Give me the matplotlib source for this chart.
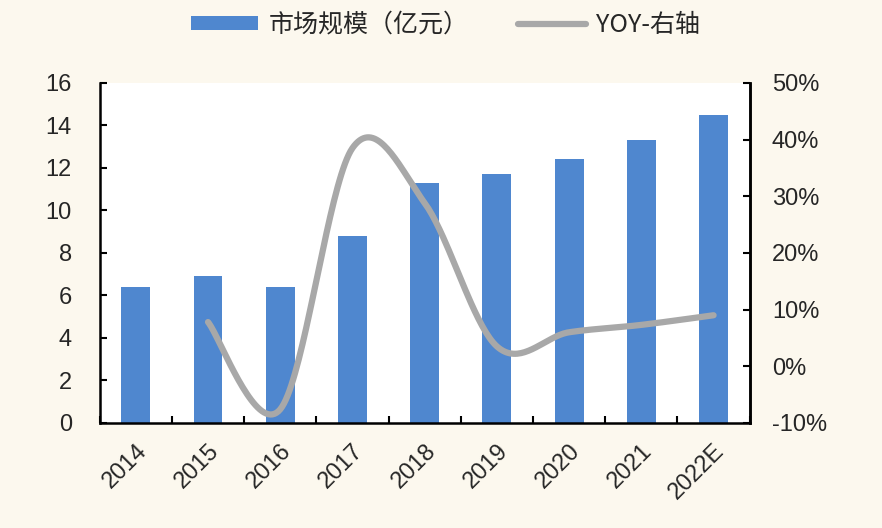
import matplotlib
matplotlib.use("Agg")
import matplotlib.pyplot as plt
from matplotlib.ticker import FuncFormatter
import numpy as np

plt.rcParams['font.family'] = ['Liberation Sans', 'Noto Sans CJK SC', 'DejaVu Sans']

years = ['2014', '2015', '2016', '2017', '2018', '2019', '2020', '2021', '2022E']
market = [6.4, 6.9, 6.4, 8.8, 11.3, 11.7, 12.4, 13.3, 14.5]
yoy = [None, 7.8, -7.6, 38.5, 28.8, 3.5, 6.0, 7.3, 9.0]

bar_color = '#4F87CF'
line_color = '#A8A8A8'
bg = '#FCF8EE'
txt = '#262626'


def smooth(xs, ys, n=40):
    # excel-style smoothed line: cubic bezier, control points from neighbours / 6
    pts = np.column_stack([xs, ys]).astype(float)
    out = []
    for i in range(len(pts) - 1):
        p0 = pts[i - 1] if i > 0 else pts[i]
        p1 = pts[i]
        p2 = pts[i + 1]
        p3 = pts[i + 2] if i + 2 < len(pts) else pts[i + 1]
        c1 = p1 + (p2 - p0) / 6
        c2 = p2 - (p3 - p1) / 6
        t = np.linspace(0, 1, n)[:, None]
        seg = ((1 - t) ** 3) * p1 + 3 * ((1 - t) ** 2) * t * c1 + 3 * (1 - t) * t ** 2 * c2 + t ** 3 * p2
        out.append(seg if i == 0 else seg[1:])
    out = np.vstack(out)
    return out[:, 0], out[:, 1]


fig = plt.figure(figsize=(8.82, 5.28), dpi=100, facecolor=bg)
ax = fig.add_axes([0.113, 0.199, 0.737, 0.644])
ax.set_facecolor('white')
x = np.arange(len(years))
ax.bar(x, market, width=0.4, color=bar_color, zorder=2, label='市场规模（亿元）')
ax.set_xlim(-0.5, len(years) - 0.5)
ax.set_ylim(0, 16)
ax.set_yticks(range(0, 17, 2))
ax.set_xticks(np.arange(-0.5, len(years), 1), minor=False)
ax.set_xticklabels([])
ax.set_xticks(x, minor=True)
ax.set_xticklabels(years, minor=True, rotation=45, ha='right', va='top', rotation_mode='anchor',
                   fontsize=17, color=txt)
ax.tick_params(axis='x', which='minor', length=0, pad=12)
ax.tick_params(axis='x', which='major', direction='in', length=5, width=1.5)
ax.tick_params(axis='y', direction='in', length=5, width=1.5, labelsize=17, pad=20, labelcolor=txt)
for s in ['left', 'bottom', 'right']:
    ax.spines[s].set_linewidth(1.8)
ax.spines['top'].set_visible(False)

ax2 = ax.twinx()
xs = [i for i, v in enumerate(yoy) if v is not None]
ys = [v for v in yoy if v is not None]
sx, sy = smooth(xs, ys)
ax2.plot(sx, sy, color=line_color, lw=4.5, solid_capstyle='round', zorder=3, label='YOY-右轴')
ax2.set_ylim(-10, 50)
ax2.set_yticks(range(-10, 51, 10))
ax2.yaxis.set_major_formatter(FuncFormatter(lambda v, p: f'{v:.0f}%'))
ax2.tick_params(axis='y', direction='in', length=5, width=1.5, labelsize=17, pad=16, labelcolor=txt)
ax2.spines['right'].set_linewidth(1.8)
ax2.spines['top'].set_visible(False)
ax2.spines['left'].set_visible(False)
ax2.spines['bottom'].set_visible(False)

h1, l1 = ax.get_legend_handles_labels()
h2, l2 = ax2.get_legend_handles_labels()
leg = fig.legend(h1 + h2, l1 + l2, loc='upper center', bbox_to_anchor=(0.505, 1.02), ncol=2, frameon=False,
                 handlelength=2.7, handleheight=0.45, columnspacing=2.0, handletextpad=0.4,
                 prop={'family': ['Noto Sans CJK SC'], 'size': 18})
for t in leg.get_texts():
    t.set_color(txt)

fig.savefig('out.png', dpi=100, facecolor=bg)
